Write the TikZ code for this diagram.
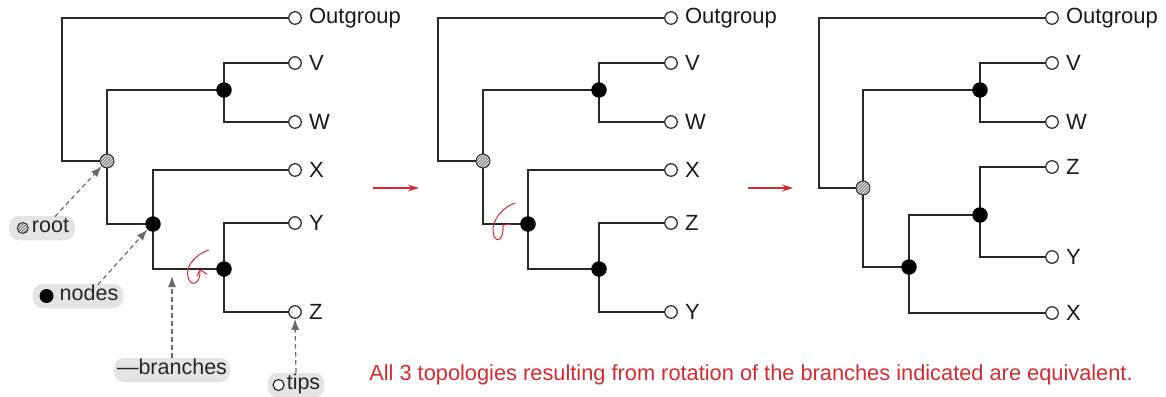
\documentclass[tikz,border=0pt]{standalone}
\usepackage{fontspec}
\setmainfont{Liberation Sans}
\usetikzlibrary{arrows.meta,patterns,backgrounds}
\definecolor{linec}{RGB}{40,40,40}
\definecolor{redc}{RGB}{212,42,48}
\definecolor{pillc}{RGB}{228,228,228}
\definecolor{dashc}{RGB}{105,105,105}
\tikzset{
  branch/.style={draw=linec, line width=1.4pt},
  tip/.style={circle, draw=linec, fill=white, line width=1.2pt, minimum size=12.5pt, inner sep=0pt},
  inode/.style={circle, fill=black, minimum size=15.5pt, inner sep=0pt},
  rootnode/.style={circle, draw=linec, line width=0.9pt, preaction={fill=black!45}, pattern=north east lines, pattern color=white, minimum size=14pt, inner sep=0pt},
  tiplabel/.style={anchor=west, inner sep=0pt, font=\fontsize{22}{22}\selectfont, text=black!90},
  pill/.style={fill=pillc, rounded corners=10pt, inner ysep=3pt, text height=14pt, text depth=4.5pt, font=\fontsize{21.5}{21.5}\selectfont, text=black!85},
  pointer/.style={draw=dashc, line width=1.2pt, dash pattern=on 4.5pt off 3.5pt, -{Latex[length=11pt,width=8pt]}},
  redarrow/.style={draw=redc, line width=1.3pt, -{Stealth[length=11pt,width=7pt]}},
  curl/.style={draw=redc, line width=1pt, line cap=round, line join=round},
}
\begin{document}
\begin{tikzpicture}[x=1pt,y=-1pt]
\useasboundingbox (0,0) rectangle (1166,396);

% ---------- Panel 1 ----------
\node[tip] (o1) at (295,18) {};
\node[tip] (v1) at (295,63) {};
\node[tip] (w1) at (295,122) {};
\node[tip] (x1) at (295,170) {};
\node[tip] (y1) at (295,223) {};
\node[tip] (z1) at (295,312) {};
\node[rootnode] (r1) at (107,161) {};
\node[inode] (a1) at (224,90) {};
\node[inode] (b1) at (153,224) {};
\node[inode] (c1) at (224,269) {};
\coordinate (l1) at (62,161);
\begin{scope}[on background layer]
\draw[branch] (r1.center) -- (l1) |- (o1.center);
\draw[branch] (r1.center) |- (a1.center);
\draw[branch] (a1.center) |- (v1.center);
\draw[branch] (a1.center) |- (w1.center);
\draw[branch] (r1.center) |- (b1.center);
\draw[branch] (b1.center) |- (x1.center);
\draw[branch] (b1.center) |- (c1.center);
\draw[branch] (c1.center) |- (y1.center);
\draw[branch] (c1.center) |- (z1.center);
\end{scope}
\node[tiplabel] (to1) at ([xshift=7pt]o1.east) {Outgroup};
\node[tiplabel] (tv1) at ([xshift=7pt]v1.east) {V};
\node[tiplabel] (tw1) at ([xshift=7pt]w1.east) {W};
\node[tiplabel] (tx1) at ([xshift=7pt]x1.east) {X};
\node[tiplabel] (ty1) at ([xshift=7pt]y1.east) {Y};
\node[tiplabel] (tz1) at ([xshift=7pt]z1.east) {Z};

% legend pills
\node[pill, inner xsep=6pt] (lroot) at (42,228) {\hspace{17pt}root};
\node[rootnode, minimum size=11pt] (sroot) at ([xshift=14pt]lroot.west) {};
\node[pill, inner xsep=5pt] (lnodes) at (78,296) {\hspace{22pt}nodes};
\node[inode, minimum size=14pt] (snodes) at ([xshift=14pt]lnodes.west) {};
\node[pill, inner xsep=3pt] (lbranches) at (172,370) {\textemdash branches};
\node[pill, inner xsep=4pt] (ltips) at (296,385) {\hspace{15pt}tips};
\node[tip, minimum size=11pt] (stips) at ([xshift=11pt]ltips.west) {};

% pointers
\coordinate (broot) at (172,276);
\draw[pointer] (lroot.north) ++(13pt,-1pt) coordinate (proot) -- (r1.south west);
\draw[pointer] (lnodes.north) ++(20pt,-1pt) coordinate (pnodes) -- (b1.south west);
\draw[pointer] (lbranches.north) -- (broot);
\draw[pointer] (ltips.north) -- (z1.south);

% rotation curl 1
\draw[curl] (209,250) .. controls (196,254) and (185,266) .. (188,277)
  .. controls (191,288) and (201,284) .. (200,270) -- (207,274);
\draw[curl] (200,270) -- (197,276);

% ---------- Panel 2 ----------
\node[tip] (o2) at (671,18) {};
\node[tip] (v2) at (671,63) {};
\node[tip] (w2) at (671,122) {};
\node[tip] (x2) at (671,170) {};
\node[tip] (z2) at (671,223) {};
\node[tip] (y2) at (671,312) {};
\node[rootnode] (r2) at (483,161) {};
\node[inode] (a2) at (599,90) {};
\node[inode] (b2) at (528,224) {};
\node[inode] (c2) at (599,269) {};
\coordinate (l2) at (438,161);
\begin{scope}[on background layer]
\draw[branch] (r2.center) -- (l2) |- (o2.center);
\draw[branch] (r2.center) |- (a2.center);
\draw[branch] (a2.center) |- (v2.center);
\draw[branch] (a2.center) |- (w2.center);
\draw[branch] (r2.center) |- (b2.center);
\draw[branch] (b2.center) |- (x2.center);
\draw[branch] (b2.center) |- (c2.center);
\draw[branch] (c2.center) |- (z2.center);
\draw[branch] (c2.center) |- (y2.center);
\end{scope}
\node[tiplabel] (to2) at ([xshift=7pt]o2.east) {Outgroup};
\node[tiplabel] (tv2) at ([xshift=7pt]v2.east) {V};
\node[tiplabel] (tw2) at ([xshift=7pt]w2.east) {W};
\node[tiplabel] (tx2) at ([xshift=7pt]x2.east) {X};
\node[tiplabel] (tz2) at ([xshift=7pt]z2.east) {Z};
\node[tiplabel] (ty2) at ([xshift=7pt]y2.east) {Y};

% rotation curl 2
\draw[curl] (515,203) .. controls (503,207) and (492,220) .. (493,231)
  .. controls (494,244) and (504,243) .. (503,225) -- (512,224);

% ---------- Panel 3 ----------
\node[tip] (o3) at (1052,18) {};
\node[tip] (v3) at (1052,63) {};
\node[tip] (w3) at (1052,122) {};
\node[tip] (z3) at (1052,167) {};
\node[tip] (y3) at (1052,257) {};
\node[tip] (x3) at (1052,313) {};
\node[rootnode] (r3) at (863,188) {};
\node[inode] (a3) at (980,90) {};
\node[inode] (b3) at (909,267) {};
\node[inode] (c3) at (980,215) {};
\coordinate (l3) at (819,188);
\begin{scope}[on background layer]
\draw[branch] (r3.center) -- (l3) |- (o3.center);
\draw[branch] (r3.center) |- (a3.center);
\draw[branch] (a3.center) |- (v3.center);
\draw[branch] (a3.center) |- (w3.center);
\draw[branch] (r3.center) |- (b3.center);
\draw[branch] (b3.center) |- (c3.center);
\draw[branch] (b3.center) |- (x3.center);
\draw[branch] (c3.center) |- (z3.center);
\draw[branch] (c3.center) |- (y3.center);
\end{scope}
\node[tiplabel] (to3) at ([xshift=7pt]o3.east) {Outgroup};
\node[tiplabel] (tv3) at ([xshift=7pt]v3.east) {V};
\node[tiplabel] (tw3) at ([xshift=7pt]w3.east) {W};
\node[tiplabel] (tz3) at ([xshift=7pt]z3.east) {Z};
\node[tiplabel] (ty3) at ([xshift=7pt]y3.east) {Y};
\node[tiplabel] (tx3) at ([xshift=7pt]x3.east) {X};

% ---------- arrows between panels ----------
\coordinate (ar1s) at (373,188);
\coordinate (ar1e) at (419,188);
\coordinate (ar2s) at (748,188);
\coordinate (ar2e) at (793,188);
\draw[redarrow] (ar1s) -- (ar1e);
\draw[redarrow] (ar2s) -- (ar2e);

% caption
\node[text=redc, font=\fontsize{21.8}{21.8}\selectfont, inner sep=0pt] (caption) at (751,375)
  {All 3 topologies resulting from rotation of the branches indicated are equivalent.};
\end{tikzpicture}
\end{document}
